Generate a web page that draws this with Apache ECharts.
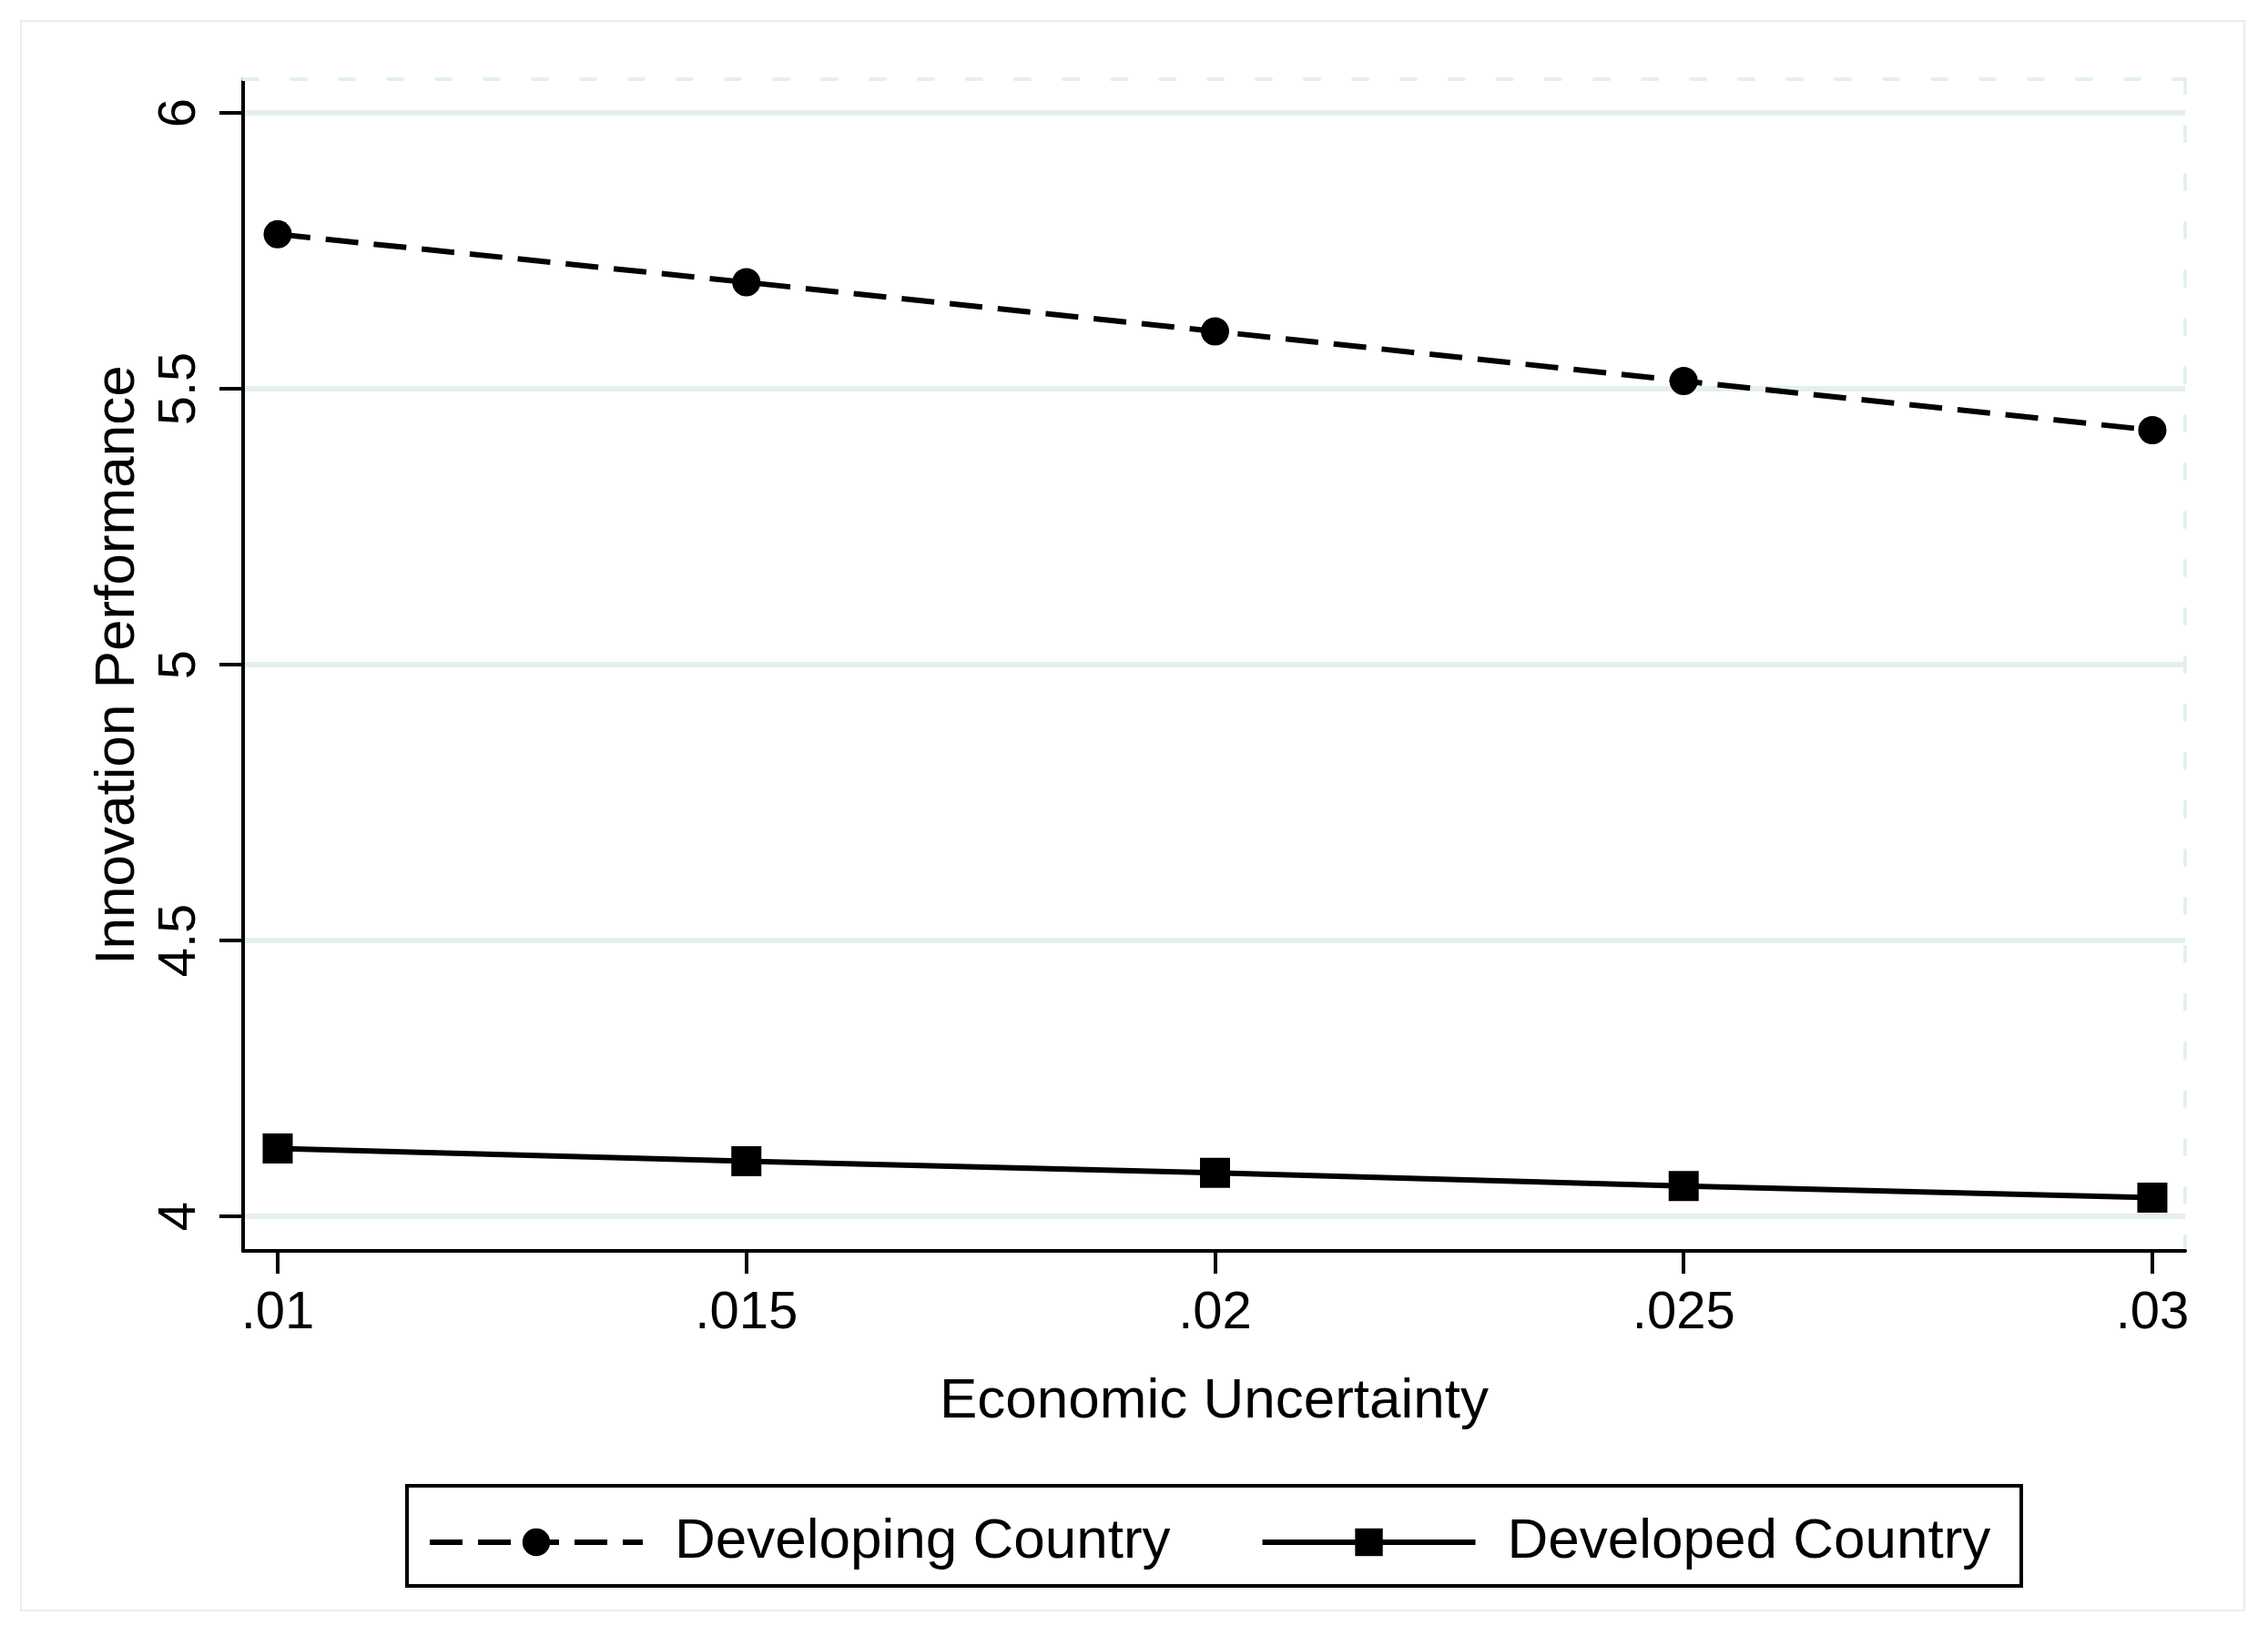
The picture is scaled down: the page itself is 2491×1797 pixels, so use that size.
<!DOCTYPE html>
<html><head><meta charset="utf-8">
<script src="https://cdn.jsdelivr.net/npm/echarts@6/dist/echarts.min.js"></script>
<style>html,body{margin:0;padding:0;background:#fff}#c{width:2491px;height:1797px}</style>
</head><body><div id="c"></div>
<script>
const xValues = [0.01, 0.015, 0.02, 0.025, 0.03];
const developing = [5.78, 5.693, 5.604, 5.514, 5.425];
const developed = [4.123, 4.100, 4.079, 4.055, 4.034];
const xTicks = [0.01, 0.015, 0.02, 0.025, 0.03];
const yTicks = [4, 4.5, 5, 5.5, 6];
const seriesNames = ['Developing Country', 'Developed Country'];
const xTitle = 'Economic Uncertainty';
const yTitle = 'Innovation Performance';

const FONT = "'Liberation Sans', Arial, sans-serif";
const GRID = '#e4eff0';
const X_MIN = 0.009631, X_MAX = 0.03035, Y_MIN = 3.9373, Y_MAX = 6.0611;

const chart = echarts.init(document.getElementById('c'), null, {renderer: 'canvas'});
const fmtX = v => String(+v.toFixed(4)).replace(/^0\./, '.');

chart.setOption({
  backgroundColor: '#fff',
  animation: false,
  grid: {left: 267, right: 91, top: 87, bottom: 423, containLabel: false},
  xAxis: [{
    type: 'value', position: 'bottom', min: X_MIN, max: X_MAX,
    axisLine: {show: true, onZero: false, lineStyle: {color: '#000', width: 4}},
    axisTick: {show: true, length: 25, customValues: xTicks, lineStyle: {color: '#000', width: 4}},
    axisLabel: {customValues: xTicks, formatter: fmtX, fontSize: 58, fontFamily: FONT, color: '#000', margin: 40},
    splitLine: {show: false},
    name: xTitle, nameLocation: 'middle', nameGap: 135,
    nameTextStyle: {fontSize: 62, fontFamily: FONT, color: '#000'}
  }, {
    type: 'value', position: 'top', min: X_MIN, max: X_MAX,
    axisLine: {show: true, onZero: false, lineStyle: {color: GRID, width: 4, type: [16, 37]}},
    axisTick: {show: false}, axisLabel: {show: false}, splitLine: {show: false}
  }],
  yAxis: [{
    type: 'value', position: 'left', min: Y_MIN, max: Y_MAX,
    axisLine: {show: true, onZero: false, lineStyle: {color: '#000', width: 4}},
    axisTick: {show: true, length: 26, customValues: yTicks, lineStyle: {color: '#000', width: 4}},
    axisLabel: {customValues: yTicks, rotate: 90, fontSize: 58, fontFamily: FONT, color: '#000', margin: 40},
    splitLine: {show: true, lineStyle: {color: GRID, width: 6}},
    name: yTitle, nameLocation: 'middle', nameGap: 100,
    nameTextStyle: {fontSize: 62, fontFamily: FONT, color: '#000'}
  }, {
    type: 'value', position: 'right', min: Y_MIN, max: Y_MAX,
    axisLine: {show: true, onZero: false, lineStyle: {color: GRID, width: 4, type: [16, 37]}},
    axisTick: {show: false}, axisLabel: {show: false}, splitLine: {show: false}
  }],
  legend: {
    left: 464, top: 1658, itemWidth: 234, itemHeight: 38, itemGap: 98,
    selectedMode: false, data: seriesNames,
    lineStyle: {width: 6},
    textStyle: {fontSize: 62, fontFamily: FONT, color: '#000', padding: [0, 0, 0, 30]}
  },
  graphic: [
    {type: 'rect', silent: true, z: -10, shape: {x: 23, y: 23, width: 2442, height: 1746},
     style: {fill: null, stroke: GRID, lineWidth: 2}},
    {type: 'rect', silent: true, shape: {x: 447, y: 1632, width: 1773, height: 110},
     style: {fill: null, stroke: '#000', lineWidth: 4}}
  ],
  series: [{
    name: seriesNames[0], type: 'line', xAxisIndex: 0, yAxisIndex: 0,
    data: xValues.map((x, i) => [x, developing[i]]),
    symbol: 'circle', symbolSize: 31,
    lineStyle: {color: '#000', width: 6, type: [36, 17]},
    itemStyle: {color: '#000'}
  }, {
    name: seriesNames[1], type: 'line', xAxisIndex: 0, yAxisIndex: 0,
    data: xValues.map((x, i) => [x, developed[i]]),
    symbol: 'rect', symbolSize: 33,
    lineStyle: {color: '#000', width: 6, type: 'solid'},
    itemStyle: {color: '#000'}
  }]
});
</script></body></html>
